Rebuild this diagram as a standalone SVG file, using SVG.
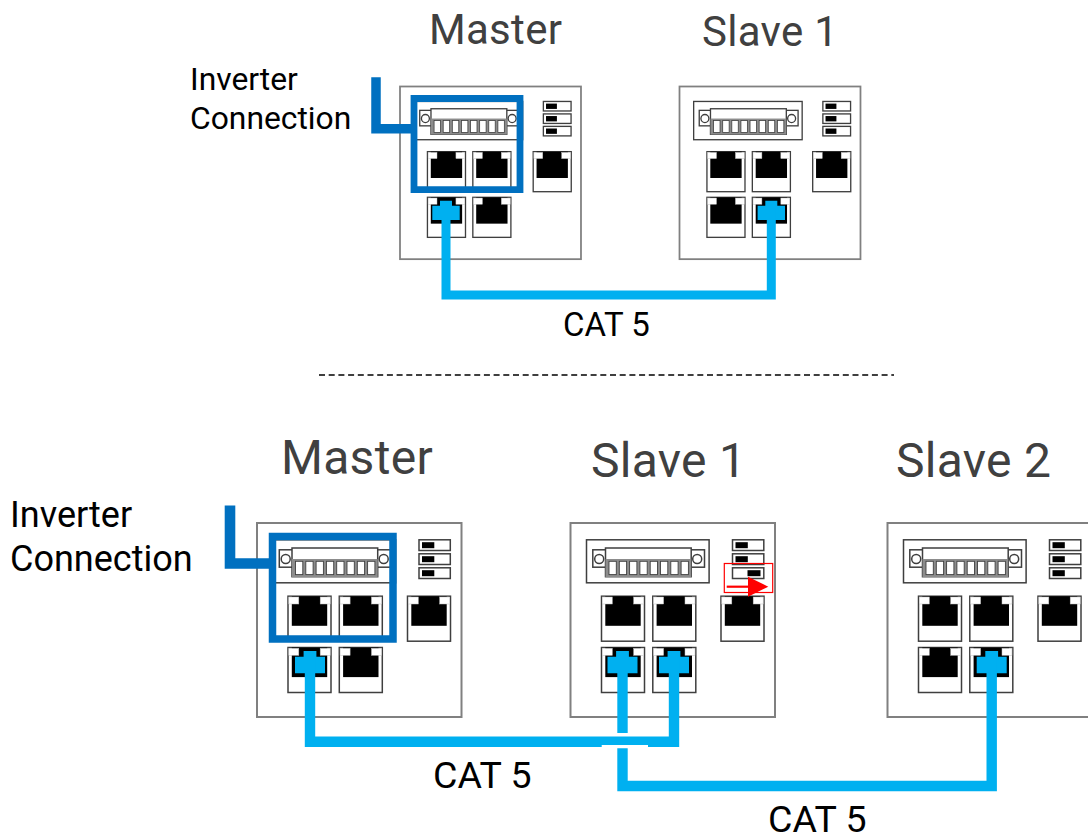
<svg xmlns="http://www.w3.org/2000/svg" width="1088" height="834" viewBox="0 0 1088 834">
<style>
text{font-family:Roboto,"Liberation Sans",sans-serif}
.title{fill:#404040;letter-spacing:.3px}
.box{fill:#fff;stroke:#808080;stroke-width:2}
.ln{fill:#fff;stroke:#3f3f3f;stroke-width:1.5}
.k{fill:#000}
.w{fill:#fff;stroke:#bfbfbf;stroke-width:.5}
.pin{fill:#fff;stroke:#404040;stroke-width:.9}
.cat{fill:none;stroke:#00b0f0}
.plug{fill:#00b0f0}
.inv{fill:none;stroke:#0070c0}
</style>
<defs>
<g id="port">
<rect class="ln" width="43" height="45"/>
<rect class="k" x="3.8" y="0" width="35.4" height="29.6"/>
<rect class="w" x=".8" y=".8" width="10" height="7"/>
<rect class="w" x="32.2" y=".8" width="10" height="7"/>
</g>
<g id="sw">
<rect class="ln" width="31.3" height="10.7"/>
<rect class="k" x="3" y="2.4" width="12.3" height="6"/>
</g>
<g id="device">
<rect class="box" width="204.5" height="194"/>
<rect class="ln" x="16" y="16.8" width="122.6" height="43"/>
<rect class="ln" x="22.3" y="26.8" width="111.7" height="17.4"/>
<rect class="ln" x="35" y="25" width="85.7" height="28.7"/>
<rect x="35" y="36" width="85.7" height="18" fill="#8c8c8c"/>
<g class="pin">
<rect x="38.5" y="38.3" width="7.3" height="13.3"/><rect x="48.8" y="38.3" width="7.3" height="13.3"/><rect x="59.1" y="38.3" width="7.3" height="13.3"/><rect x="69.4" y="38.3" width="7.3" height="13.3"/><rect x="79.7" y="38.3" width="7.3" height="13.3"/><rect x="90" y="38.3" width="7.3" height="13.3"/><rect x="100.3" y="38.3" width="7.3" height="13.3"/><rect x="110.6" y="38.3" width="7.3" height="13.3"/>
</g>
<circle class="ln" cx="28.7" cy="36" r="4.5"/>
<circle class="ln" cx="126.7" cy="36" r="4.5"/>
<use href="#port" x="31" y="73.2"/>
<use href="#port" x="82.3" y="73.2"/>
<use href="#port" x="150.5" y="73.2"/>
<use href="#port" x="31" y="124.5"/>
<use href="#port" x="82.3" y="124.5"/>
</g>
<g id="switches">
<use href="#sw" x="162" y="16.8"/>
<use href="#sw" x="162" y="30.8"/>
<use href="#sw" x="162" y="44.8"/>
</g>
<path id="plugB" d="M-6.4 0H6.4V5.7H15V22.3H-15V5.7H-6.4Z"/>
<path id="plugT" d="M-6 0H6V5H13.7V19.3H-13.7V5H-6Z"/>
</defs>

<g id="top-master">
<use href="#device" transform="translate(400 86.5) scale(.885 .89)"/>
<use href="#switches" transform="translate(400 86.5) scale(.885 .89)"/>
<text class="title" x="429" y="44" font-size="42">Master</text>
</g>
<g id="top-slave-1">
<use href="#device" transform="translate(679.5 86.5) scale(.885 .89)"/>
<use href="#switches" transform="translate(679.5 86.5) scale(.885 .89)"/>
<text class="title" x="702" y="46" font-size="42">Slave 1</text>
</g>
<g id="bottom-master">
<use href="#device" x="257" y="523"/>
<use href="#switches" x="257" y="523"/>
<text class="title" x="281" y="474" font-size="48">Master</text>
</g>
<g id="bottom-slave-1">
<use href="#device" x="570.5" y="523"/>
<g transform="translate(570.5 523)">
<use href="#sw" x="162" y="16.8"/>
<use href="#sw" x="162" y="30.8"/>
<rect class="ln" x="162" y="44.8" width="31.3" height="10.7"/>
<rect class="k" x="177" y="47.2" width="13" height="6"/>
</g>
<text class="title" x="591" y="477" font-size="48">Slave 1</text>
</g>
<g id="bottom-slave-2">
<use href="#device" x="887.5" y="523"/>
<use href="#switches" x="887.5" y="523"/>
<text class="title" x="896" y="477" font-size="48">Slave 2</text>
</g>

<g id="connectors">
<g class="plug">
<use href="#plugT" x="446" y="200.7"/>
<use href="#plugT" x="771.3" y="200.7"/>
<use href="#plugB" x="310" y="651"/>
<use href="#plugB" x="622.5" y="651"/>
<use href="#plugB" x="674" y="651"/>
<use href="#plugB" x="991.7" y="651"/>
</g>
<path class="cat" stroke-width="9" d="M446 205V295H771.3V205"/>
<path class="cat" stroke-width="10.4" d="M310 655V741.7H674V655"/>
<path class="cat" stroke-width="10.4" d="M622.5 655V733"/>
<rect x="601.7" y="745" width="46.3" height="3" fill="#fff"/>
<path class="cat" stroke-width="10.4" d="M622.5 748.3V786H991.7V655"/>
<path class="inv" stroke-width="6.8" d="M414 98.5H520V189.7H414Z"/>
<path class="inv" stroke-width="9.5" d="M376 77.3V128.8H414"/>
<path class="inv" stroke-width="7.5" d="M272.5 536.5H393V639H272.5Z"/>
<path class="inv" stroke-width="10.6" d="M230 505.5V563.5H270"/>
</g>

<g id="dip-switch-callout">
<rect x="724.3" y="563.5" width="48.4" height="29" fill="none" stroke="#f00" stroke-width="1.2"/>
<path d="M726.7 586.7H750" stroke="#f00" stroke-width="2.2" fill="none"/>
<path d="M748 576.7L768.3 586.7L748 596.7Z" fill="#f00"/>
</g>

<g id="labels">
<text x="190" y="90" font-size="31.8">Inverter</text>
<text x="190" y="129" font-size="31.8">Connection</text>
<text x="563" y="336" font-size="33">CAT 5</text>
<text x="10" y="527" font-size="36">Inverter</text>
<text x="10" y="571" font-size="36">Connection</text>
<text x="433" y="788" font-size="37.5">CAT 5</text>
<text x="768" y="831.5" font-size="37.5">CAT 5</text>
</g>
<path id="divider" d="M319 375H894" stroke="#000" stroke-width="1.3" stroke-dasharray="6 3.7" fill="none"/>
</svg>
